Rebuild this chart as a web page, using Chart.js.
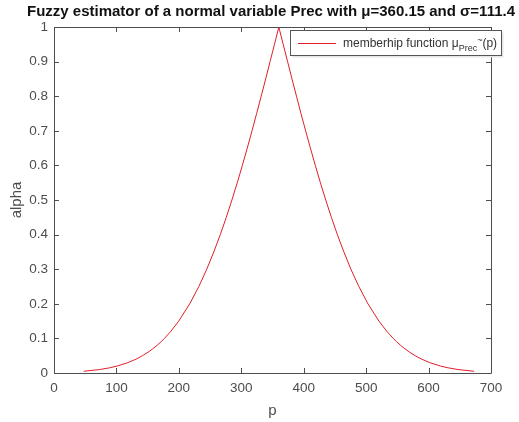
<!DOCTYPE html>
<html><head><meta charset="utf-8">
<script src="https://cdn.jsdelivr.net/npm/chart.js@4/dist/chart.umd.min.js"></script>
<style>html,body{margin:0;padding:0;background:#fff}#wrap{width:519px;height:422px}</style>
</head><body><div id="wrap"><canvas id="c" width="519" height="422"></canvas></div>
<script>
const titleText = 'Fuzzy estimator of a normal variable Prec with μ=360.15 and σ=111.4';
const alphaLevels = [0.005,0.01,0.015,0.02,0.03,0.04,0.05,0.06,0.07,0.08,0.09,0.1,0.12,0.15,0.2,0.25,0.3,0.35,0.4,0.45,0.5,0.55,0.6,0.65,0.7,0.75,0.8,0.85,0.9,0.95,1];
const pLeft  = [47.5,73.2,89.2,101.0,118.4,131.4,141.8,150.6,158.3,165.1,171.3,176.9,187.0,199.8,217.4,232.0,244.7,256.0,266.4,276.0,285.0,293.6,301.7,309.6,317.2,324.6,331.9,339.1,346.1,353.2,360.15];
const pRight = [672.9,647.1,631.1,619.3,601.9,588.9,578.5,569.7,562.0,555.2,549.0,543.4,533.3,520.5,502.9,488.3,475.6,464.3,453.9,444.3,435.3,426.7,418.6,410.7,403.1,395.6,388.4,381.2,374.2,367.1,360.15];
const xTicks = [0,100,200,300,400,500,600,700];
const yTicks = [0,0.1,0.2,0.3,0.4,0.5,0.6,0.7,0.8,0.9,1];

const pts = [];
for (let i = 0; i < alphaLevels.length; i++) pts.push({x: pLeft[i], y: alphaLevels[i]});
for (let i = alphaLevels.length - 2; i >= 0; i--) pts.push({x: pRight[i], y: alphaLevels[i]});

const AX = '#4d4d4d';
const FONT = '"Liberation Sans", Arial, sans-serif';

const deco = {
  id: 'deco',
  afterDraw(chart) {
    const ctx = chart.ctx, a = chart.chartArea, xs = chart.scales.x, ys = chart.scales.y;
    ctx.save();
    ctx.strokeStyle = AX; ctx.lineWidth = 1;
    ctx.beginPath();
    ctx.rect(Math.round(a.left)+0.5, Math.round(a.top)+0.5, Math.round(a.right-a.left), Math.round(a.bottom-a.top));
    ctx.stroke();
    ctx.beginPath();
    xTicks.forEach(v => { const x = Math.round(xs.getPixelForValue(v))+0.5;
      ctx.moveTo(x, a.bottom); ctx.lineTo(x, a.bottom-5);
      ctx.moveTo(x, a.top); ctx.lineTo(x, a.top+5); });
    yTicks.forEach(v => { const y = Math.round(ys.getPixelForValue(v))+0.5;
      ctx.moveTo(a.left, y); ctx.lineTo(a.left+5, y);
      ctx.moveTo(a.right, y); ctx.lineTo(a.right-5, y); });
    ctx.stroke();
    // title
    ctx.fillStyle = '#111';
    ctx.font = 'bold 15px ' + FONT;
    ctx.textAlign = 'center'; ctx.textBaseline = 'middle';
    ctx.fillText(titleText, 271, 12);
    // legend box
    const bx = 290.5, by = 30.5, bw = 211, bh = 25;
    ctx.fillStyle = '#e6e6e6';
    ctx.fillRect(bx+2, by+2, bw, bh);
    ctx.fillStyle = '#fff';
    ctx.fillRect(bx, by, bw, bh);
    ctx.strokeStyle = '#555';
    ctx.strokeRect(bx, by, bw, bh);
    ctx.strokeStyle = 'rgb(225,30,40)';
    ctx.beginPath(); ctx.moveTo(298, 43.5); ctx.lineTo(336, 43.5); ctx.stroke();
    ctx.fillStyle = '#333';
    ctx.textAlign = 'left'; ctx.textBaseline = 'alphabetic';
    let x = 343;
    ctx.font = '12px ' + FONT;
    const t1 = 'memberhip function μ';
    ctx.fillText(t1, x, 47); x += ctx.measureText(t1).width;
    ctx.font = '9px ' + FONT;
    ctx.fillText('Prec', x, 51); x += ctx.measureText('Prec').width;
    ctx.fillText('~', x, 43); x += ctx.measureText('~').width;
    ctx.font = '12px ' + FONT;
    ctx.fillText('(p)', x, 47);
    ctx.restore();
  }
};

new Chart(document.getElementById('c'), {
  type: 'line',
  data: { datasets: [{ data: pts, borderColor: 'rgb(225,30,40)', borderWidth: 1, pointRadius: 0, tension: 0, fill: false }] },
  options: {
    responsive: false, animation: false, devicePixelRatio: 1,
    layout: { padding: { top: 27, right: 28, left: 0, bottom: 0 } },
    plugins: { legend: { display: false }, tooltip: { enabled: false } },
    scales: {
      x: { type: 'linear', min: 0, max: 700,
        afterBuildTicks: s => { s.ticks = xTicks.map(v => ({value: v})); },
        afterFit: s => { s.height = 49; },
        grid: { display: false, drawTicks: false }, border: { display: false },
        ticks: { color: AX, font: { family: FONT, size: 13.5 }, padding: 7, maxRotation: 0 },
        title: { display: true, text: 'p', color: AX, font: { family: FONT, size: 15 }, padding: { top: 0, bottom: 2 } } },
      y: { type: 'linear', min: 0, max: 1,
        afterBuildTicks: s => { s.ticks = yTicks.map(v => ({value: v})); },
        afterFit: s => { s.width = 54; },
        grid: { display: false, drawTicks: false }, border: { display: false },
        ticks: { color: AX, font: { family: FONT, size: 13.5 }, padding: 6, callback: v => String(+v.toFixed(1)) },
        title: { display: true, text: 'alpha', color: AX, font: { family: FONT, size: 15 }, padding: { top: 8, bottom: 0 } } }
    }
  },
  plugins: [deco]
});
</script></body></html>
